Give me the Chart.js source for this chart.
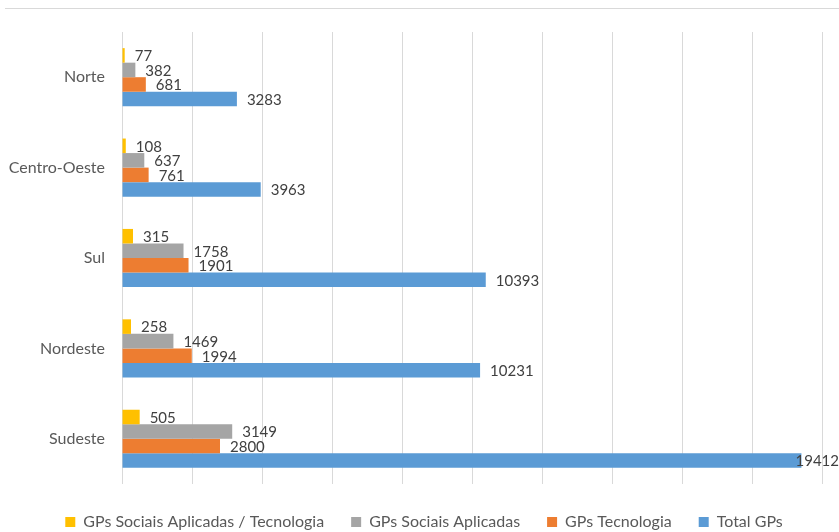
<!DOCTYPE html>
<html>
<head>
<meta charset="utf-8">
<script src="https://cdn.jsdelivr.net/npm/chart.js@4/dist/chart.umd.min.js"></script>
<style>
  html, body { margin: 0; padding: 0; background: #fff; overflow: hidden; }
  #wrap { position: relative; width: 839px; height: 540px; }
  #topline { position: absolute; top: 8px; left: 5px; right: 0; border-top: 1px solid #d9d9d9; }
</style>
</head>
<body>
<div id="wrap">
  <div id="topline"></div>
  <canvas id="grafico" width="839" height="540"></canvas>
</div>
<script>
// regiões e séries
const regioes = ['Norte', 'Centro-Oeste', 'Sul', 'Nordeste', 'Sudeste'];
const sociaisTecnologia = [77, 108, 315, 258, 505];
const sociaisAplicadas = [382, 637, 1758, 1469, 3149];
const tecnologia = [681, 761, 1901, 1994, 2800];
const totalGPs = [3283, 3963, 10393, 10231, 19412];

const nomesSeries = ['GPs Sociais Aplicadas / Tecnologia', 'GPs Sociais Aplicadas', 'GPs Tecnologia', 'Total GPs'];
const cores = ['#FFC000', '#A5A5A5', '#ED7D31', '#5B9BD5'];

const fonte = 'Lato, "Open Sans", sans-serif';

// rótulos de valor na ponta das barras
const rotulosValor = {
    id: 'rotulosValor',
    afterDatasetsDraw(chart) {
        const ctx = chart.ctx;
        ctx.save();
        ctx.font = '15px ' + fonte;
        ctx.fillStyle = '#404040';
        ctx.textBaseline = 'middle';
        chart.data.datasets.forEach((ds, i) => {
            chart.getDatasetMeta(i).data.forEach((bar, j) => {
                const txt = String(ds.data[j]);
                const w = ctx.measureText(txt).width;
                const x = Math.min(bar.x + 10, chart.width - w);
                ctx.fillText(txt, x, bar.y + 1);
            });
        });
        ctx.restore();
    }
};

// legenda um pouco deslocada para a direita, como no original
const deslocaLegenda = {
    id: 'deslocaLegenda',
    afterLayout(chart) {
        chart.legend.left += 13;
        chart.legend.right += 13;
    }
};

const dados = {
    labels: regioes,
    datasets: [sociaisTecnologia, sociaisAplicadas, tecnologia, totalGPs].map((serie, i) => ({
        label: nomesSeries[i],
        data: serie,
        backgroundColor: cores[i],
        borderWidth: 0,
        barPercentage: 1,
        categoryPercentage: 0.643
    }))
};

new Chart(document.getElementById('grafico'), {
    type: 'bar',
    data: dados,
    plugins: [rotulosValor, deslocaLegenda],
    options: {
        indexAxis: 'y',
        responsive: false,
        animation: false,
        layout: { padding: { top: 32, right: 17, left: 0, bottom: 0 } },
        plugins: {
            tooltip: { enabled: false },
            legend: {
                position: 'bottom',
                labels: {
                    boxWidth: 10,
                    boxHeight: 10,
                    padding: 27,
                    color: '#595959',
                    font: { family: fonte, size: 16 }
                }
            }
        },
        scales: {
            x: {
                min: 0,
                max: 20000,
                afterFit(s) { s.height = 3; },
                ticks: { display: false, stepSize: 2000 },
                grid: { color: '#d9d9d9', drawTicks: false },
                border: { display: false }
            },
            y: {
                afterFit(s) { s.width = 122; },
                ticks: { color: '#595959', padding: 17, font: { family: fonte, size: 16 } },
                grid: { display: false, drawTicks: false },
                border: { display: false }
            }
        }
    }
});
</script>
</body>
</html>
